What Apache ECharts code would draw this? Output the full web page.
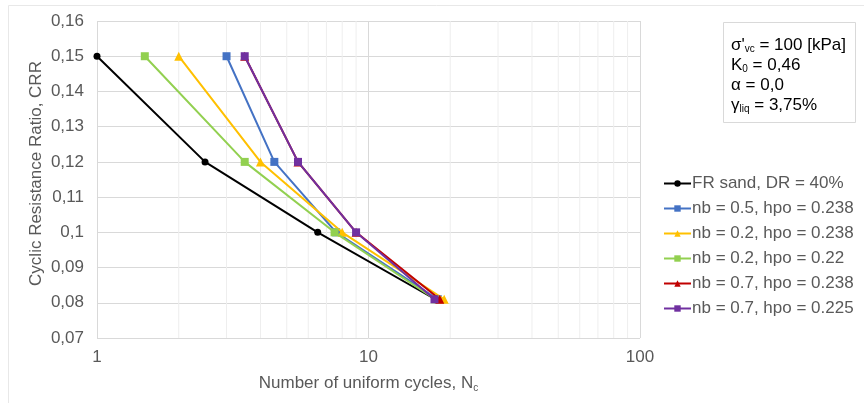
<!DOCTYPE html>
<html>
<head>
<meta charset="utf-8">
<script src="https://cdn.jsdelivr.net/npm/echarts@6/dist/echarts.min.js"></script>
<style>
  html, body { margin: 0; padding: 0; background: #fff; }
  #chart { width: 864px; height: 403px; }
</style>
</head>
<body>
<div id="chart"></div>
<script>
// Number of uniform cycles for each CRR level
const crrLevels = [0.15, 0.12, 0.10, 0.081];
const frSand   = [1.0, 2.5, 6.5, 17.6];
const nb05h238 = [3.0, 4.5, 7.6, 18.0];
const nb02h238 = [2.0, 4.0, 8.0, 19.0];
const nb02h22  = [1.5, 3.5, 7.5, 17.6];
const nb07h238 = [3.5, 5.5, 9.0, 18.3];
const nb07h225 = [3.5, 5.5, 9.0, 17.5];

const seriesNames = [
  'FR sand, DR = 40%',
  'nb = 0.5, hpo = 0.238',
  'nb = 0.2, hpo = 0.238',
  'nb = 0.2, hpo = 0.22',
  'nb = 0.7, hpo = 0.238',
  'nb = 0.7, hpo = 0.225'
];
const seriesCycles = [frSand, nb05h238, nb02h238, nb02h22, nb07h238, nb07h225];
const seriesColors = ['#000000', '#4472C4', '#FFC000', '#92D050', '#C00000', '#7030A0'];
const seriesSymbols = ['circle', 'rect', 'triangle', 'rect', 'triangle', 'rect'];
const seriesSymbolSizes = [7, 8, 9, 8, 9, 8];

// Minor log grid positions between decades
const minorGrid = [2, 3, 4, 5, 6, 7, 8, 9, 20, 30, 40, 50, 60, 70, 80, 90];
const crrRange = [0.07, 0.16];

const font = 'Liberation Sans, Arial, sans-serif';
const grey = '#595959';
const fs = 17;

const chart = echarts.init(document.getElementById('chart'), null, { renderer: 'canvas' });

// light vertical lines at the intermediate log positions
const minorSeries = minorGrid.map(v => ({
  type: 'line',
  data: crrRange.map(y => [v, y]),
  symbol: 'none',
  silent: true,
  lineStyle: { color: '#eeeeee', width: 1 },
  emphasis: { disabled: true },
  z: 1
}));

const dataSeries = seriesNames.map((name, i) => ({
  name: name,
  type: 'line',
  data: seriesCycles[i].map((n, k) => [n, crrLevels[k]]),
  symbol: seriesSymbols[i],
  symbolSize: seriesSymbolSizes[i],
  showAllSymbol: true,
  lineStyle: { color: seriesColors[i], width: 2 },
  itemStyle: { color: seriesColors[i] },
  emphasis: { disabled: true },
  z: 3 + i
}));

chart.setOption({
  animation: false,
  backgroundColor: '#ffffff',
  textStyle: { fontFamily: font },
  grid: { left: 97, right: 224, top: 21, bottom: 65, containLabel: false },
  xAxis: {
    type: 'log',
    logBase: 10,
    min: 1,
    max: 100,
    name: '{a|Number of uniform cycles, N}{s|c}',
    nameLocation: 'middle',
    nameGap: 36,
    nameTextStyle: {
      rich: {
        a: { fontFamily: font, fontSize: fs, color: grey },
        s: { fontFamily: font, fontSize: 10, color: grey, verticalAlign: 'bottom', padding: [9, 0, 0, 0] }
      }
    },
    axisLine: { show: false },
    axisTick: { show: false },
    axisLabel: { color: grey, fontSize: fs, fontFamily: font, margin: 11 },
    splitLine: { show: true, lineStyle: { color: '#d9d9d9', width: 1 } }
  },
  yAxis: {
    type: 'value',
    min: 0.07,
    max: 0.16,
    interval: 0.01,
    name: 'Cyclic Resistance Ratio, CRR',
    nameLocation: 'middle',
    nameGap: 52,
    nameMoveOverlap: false,
    nameRotate: 90,
    nameTextStyle: { color: grey, fontSize: fs, fontFamily: font, padding: [0, 0, 0, 12] },
    axisLine: { show: false },
    axisTick: { show: false },
    axisLabel: {
      color: grey, fontSize: fs, fontFamily: font, margin: 13,
      formatter: v => String(Math.round(v * 100) / 100).replace('.', ',')
    },
    splitLine: { show: true, lineStyle: { color: '#d9d9d9', width: 1 } }
  },
  legend: {
    data: seriesNames,
    orient: 'vertical',
    left: 658,
    top: 170,
    itemWidth: 27,
    itemHeight: 8,
    itemGap: 8,
    selectedMode: false,
    textStyle: { color: grey, fontSize: fs, fontFamily: font, lineHeight: 17, padding: [0, 0, 0, -4] }
  },
  graphic: [
    {
      type: 'rect',
      shape: { x: 8.5, y: 5.5, width: 900, height: 450 },
      style: { fill: 'none', stroke: '#e8e8e8', lineWidth: 1 },
      silent: true,
      z: -1
    },
    {
      type: 'rect',
      shape: { x: 723.5, y: 22.5, width: 132, height: 100 },
      style: { fill: '#ffffff', stroke: '#d9d9d9', lineWidth: 1 },
      silent: true,
      z: 10
    },
    {
      type: 'text',
      left: 731,
      top: 35,
      z: 11,
      silent: true,
      style: {
        text: '{t|σ\'}{s|vc}{t| = 100 [kPa]}\n{t|K}{s|0}{t| = 0,46}\n{t|α = 0,0}\n{t|γ}{s|liq}{t| = 3,75%}',
        fontFamily: font,
        fill: '#000000',
        lineHeight: 20,
        rich: {
          t: { fontFamily: font, fontSize: fs, fill: '#000000', lineHeight: 20 },
          s: { fontFamily: font, fontSize: 10, fill: '#000000', lineHeight: 20, padding: [8, 0, 0, 0] }
        }
      }
    }
  ],
  series: minorSeries.concat(dataSeries)
});
</script>
</body>
</html>
